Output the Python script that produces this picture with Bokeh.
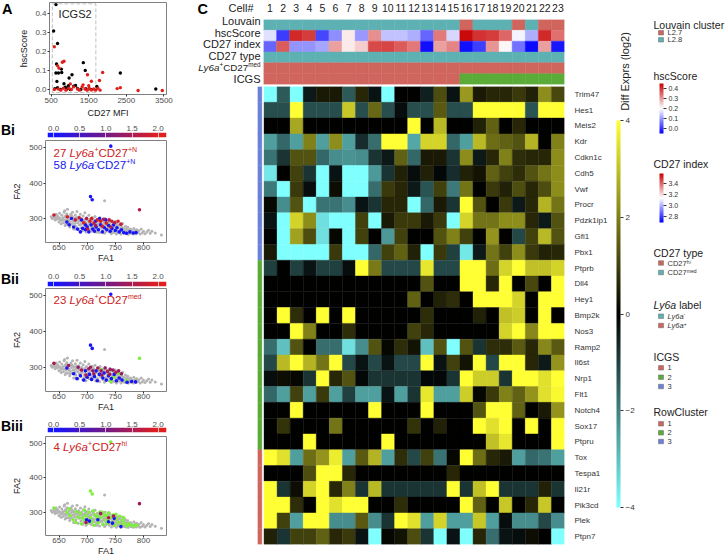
import numpy as np
from bokeh.plotting import figure
from bokeh.models import (Range1d, FactorRange, FixedTicker, LinearColorMapper, ColorBar,
                          Label, BoxAnnotation, ColumnDataSource, NumeralTickFormatter)
from bokeh.layouts import row, column
from bokeh.transform import transform, factor_cmap
from bokeh.embed import file_html
from bokeh.resources import INLINE
from bokeh.core.properties import value

FONT = "Liberation Sans"
INK = "#222222"
RED, TEAL, GREEN, BLUE = "#d0655e", "#5eb1b3", "#5aab37", "#6b80d8"

# ---------------- Panel A data ----------------
a_black_mfi = [629, 567, 670, 644, 628, 696, 773, 782, 654, 842, 978, 1056, 1356, 1408, 2341, 3284, 1716, 600, 670, 750,
               880, 930, 1010, 1100, 1200, 1290, 1420, 1560, 1150, 960]
a_black_hsc = [0.448, 0.309, 0.243, 0.135, 0.087, 0.087, 0.108, 0.090, 0.043, 0.031, 0.061, 0.078, 0.142, 0.101, 0.087,
               0.003, 0.016, 0.005, 0.010, 0.0, 0.012, 0.004, 0.0, 0.018, 0.006, 0.0, 0.004, 0.001, 0.022, 0.020]
a_red_mfi = [585, 799, 842, 713, 672, 1467, 1871, 1786, 1571, 2256, 2341, 2814, 3457, 585, 688, 757, 826, 894, 971, 1040,
             1100, 1203, 1254, 1323, 1400, 1460, 1511, 1571, 1631, 1683, 1743, 1803, 1010, 1350, 1500]
a_red_hsc = [0.226, 0.144, 0.149, 0.113, 0.125, 0.078, 0.090, 0.048, 0.044, 0.005, 0.010, -0.005, -0.005, 0.0, 0.003,
             -0.003, 0.007, -0.003, 0.007, 0.0, 0.014, 0.003, -0.003, 0.014, 0.003, -0.003, 0.007, -0.002, 0.003, -0.003,
             0.007, -0.003, 0.030, 0.025, 0.020]
icgs2_box = dict(left=533, right=1690, bottom=-0.016, top=0.452)
a_xticks = [500, 1500, 2500, 3500]
a_yticks = [0.0, 0.1, 0.2, 0.3, 0.4]

# ---------------- Panel B data (FA1, FA2) ----------------
fa_background = [
    (636, 305), (638, 300), (641, 308), (643, 296), (645, 312), (644, 302),
    (647, 298), (648, 306), (650, 290), (651, 315), (652, 300), (654, 285), (655, 309), (653, 294),
    (657, 302), (658, 288), (659, 318), (660, 295), (661, 280), (662, 308), (663, 292), (664, 300), (665, 326), (666, 284), (664, 313),
    (667, 296), (668, 305), (669, 276), (670, 290), (671, 312), (672, 299), (673, 284), (674, 318), (675, 292), (676, 270), (674, 305),
    (677, 301), (678, 286), (679, 310), (680, 278), (681, 295), (682, 320), (683, 288), (684, 268), (685, 304), (683, 299), (686, 282),
    (687, 292), (688, 312), (689, 274), (690, 300), (691, 286), (692, 265), (693, 307), (694, 295), (695, 280), (696, 316), (694, 270),
    (697, 289), (698, 262), (699, 302), (700, 276), (701, 294), (702, 283), (703, 309), (704, 268), (705, 298), (703, 288), (706, 278),
    (707, 291), (708, 264), (709, 303), (710, 281), (711, 296), (712, 272), (713, 289), (714, 306), (715, 262), (713, 279),
    (717, 285), (718, 297), (719, 268), (720, 278), (721, 292), (722, 260), (723, 302), (724, 273), (725, 286), (722, 281),
    (727, 295), (728, 266), (729, 279), (730, 288), (731, 258), (732, 300), (733, 271), (734, 283), (735, 292), (733, 263),
    (737, 276), (738, 286), (739, 262), (740, 296), (741, 270), (742, 281), (743, 257), (744, 290), (745, 275), (743, 266),
    (747, 284), (748, 260), (749, 270), (750, 292), (751, 278), (752, 256), (753, 287), (754, 266), (755, 274), (753, 281),
    (757, 262), (758, 282), (759, 270), (760, 256), (761, 277), (762, 266), (763, 286), (764, 260), (765, 272),
    (767, 264), (768, 278), (769, 257), (770, 270), (771, 262), (772, 275), (773, 255), (774, 268), (775, 261),
    (777, 270), (778, 258), (780, 265), (782, 256), (783, 272), (785, 262), (787, 257), (788, 268), (790, 260),
    (792, 265), (794, 256), (796, 270), (798, 259), (800, 264), (803, 257), (806, 262), (809, 267), (812, 258),
    (815, 264), (821, 259), (832, 253), (731, 350), (660, 322),
    (656, 296), (661, 304), (668, 292), (672, 308), (677, 293), (681, 303), (686, 296), (689, 283), (692, 292), (697, 298),
    (701, 280), (705, 287), (709, 276), (712, 296), (716, 270), (720, 286), (724, 295), (727, 274), (731, 282), (736, 270),
    (740, 284), (745, 262), (748, 276), (752, 270), (756, 280), (760, 266), (766, 258), (771, 268), (776, 264), (781, 262),
    (786, 266), (650, 302), (646, 308), (640, 302), (663, 284), (670, 282), (679, 270), (696, 272), (707, 270), (718, 262),
    (729, 293), (739, 290), (754, 260), (762, 274)]

# Bi: highlighted cells (FA1, FA2, CD27 MFI)
bi_cells = [
    (742, 505, 0.05), (706, 362, 0.05), (709, 353, 0.08), (664, 290, 0.1), (668, 282, 0.05), (676, 276, 0.1),
    (683, 270, 0.05), (688, 262, 0.0), (692, 272, 0.1), (697, 268, 0.05), (700, 276, 0.0), (703, 262, 0.1),
    (707, 282, 0.05), (710, 270, 0.0), (713, 264, 0.2), (716, 276, 0.05), (720, 268, 0.0), (724, 282, 0.1),
    (727, 262, 0.05), (731, 274, 0.0), (735, 268, 0.1), (738, 280, 0.05), (741, 264, 0.0), (744, 272, 0.1),
    (747, 282, 0.05), (750, 266, 0.0), (753, 274, 0.1), (757, 262, 0.0), (761, 268, 0.05), (765, 260, 0.1),
    (770, 258, 0.0), (776, 262, 0.05), (782, 259, 0.0), (787, 260, 0.1), (690, 296, 0.05), (715, 292, 0.0),
    (733, 296, 0.1), (697, 282, 0.05), (722, 300, 0.0), (672, 300, 0.1),
    (641, 310, 1.8), (793, 325, 1.6), (665, 305, 1.9), (679, 296, 1.7), (686, 302, 1.8), (694, 288, 2.0),
    (699, 300, 1.6), (705, 292, 1.9), (712, 287, 1.7), (718, 296, 1.8), (724, 292, 2.0), (729, 298, 1.5),
    (734, 287, 1.9), (739, 296, 1.7), (744, 292, 1.8), (749, 288, 1.6), (755, 292, 1.9), (760, 284, 1.7),
    (715, 280, 1.4), (727, 278, 1.8), (701, 270, 1.6), (742, 276, 1.5), (708, 300, 1.9)]
bii_cells = [
    (742, 505, 0.05), (706, 362, 0.05), (709, 353, 0.05), (664, 298, 0.1), (682, 268, 0.0), (688, 276, 0.05),
    (694, 264, 0.0), (700, 272, 0.1), (704, 280, 0.0), (708, 266, 0.05), (713, 274, 0.0), (718, 262, 0.1),
    (722, 280, 0.0), (728, 270, 0.05), (734, 264, 0.0), (738, 276, 0.1), (743, 268, 0.0), (748, 280, 0.05),
    (752, 262, 0.0), (757, 270, 0.1), (762, 264, 0.0), (771, 258, 0.05), (779, 260, 0.0), (786, 259, 0.1),
    (697, 290, 0.05), (716, 290, 0.0), (730, 284, 0.1), (676, 282, 0.0),
    (641, 311, 1.5), (667, 305, 1.4), (684, 300, 1.3), (690, 292, 1.5), (703, 296, 1.4), (710, 290, 1.3),
    (719, 298, 1.5), (725, 290, 1.4), (732, 298, 1.3), (736, 288, 1.5), (741, 294, 1.4), (746, 292, 1.3),
    (751, 286, 1.5), (756, 290, 1.4), (726, 278, 1.3), (712, 282, 1.4), (698, 278, 1.5), (740, 280, 1.4),
    (761, 282, 1.3), (706, 300, 1.4)]
bii_other = [(793, 325), (725, 293), (748, 272), (742, 260), (756, 283), (770, 262)]
biii_cells = [
    (699, 278, 0.05), (704, 274, 0.0), (719, 278, 0.05), (738, 272, 0.0), (745, 268, 0.1), (748, 282, 0.05),
    (760, 258, 0.0), (698, 270, 1.5), (724, 296, 1.4), (747, 289, 1.5), (793, 325, 1.4), (738, 284, 1.5)]
biii_other = [
    (742, 505), (706, 362), (709, 353), (641, 312), (664, 300), (670, 290), (675, 278), (680, 270), (684, 285),
    (688, 296), (690, 266), (694, 278), (698, 290), (700, 268), (703, 300), (706, 284), (709, 272), (712, 262),
    (714, 292), (717, 280), (720, 270), (722, 298), (725, 284), (728, 264), (731, 292), (733, 276), (736, 268),
    (738, 298), (741, 284), (744, 270), (746, 292), (749, 262), (752, 280), (755, 270), (758, 288), (760, 262),
    (763, 276), (766, 268), (770, 260), (774, 266), (778, 262), (783, 260), (788, 262), (668, 310), (681, 302),
    (695, 306), (711, 304), (727, 300), (692, 284), (718, 288), (734, 290), (751, 294), (765, 284)]
fa1_ticks = [650, 700, 750, 800]
fa2_ticks = [300, 400, 500]
mfi_ticks = [0.0, 0.5, 1.0, 1.5, 2.0]

# ---------------- Panel C data ----------------
cell_ids = list(range(1, 24))
louvain = ["L2.8"] * 15 + ["L2.7", "L2.8", "L2.8", "L2.8", "L2.7", "L2.8", "L2.7", "L2.7"]
hsc_score = [0.17, 0.01, 0.41, 0.39, 0.02, 0.09, 0.22, 0.10, 0.31, 0.14, 0.14, 0.12, 0.05, 0.33, 0.16,
             0.44, 0.40, 0.39, 0.35, 0.19, 0.12, 0.41, 0.34]
cd27_index = [2.87, 3.42, 2.95, 2.95, 2.98, 3.30, 3.17, 3.22, 3.45, 3.46, 3.42, 3.37, 2.72, 3.30, 3.35,
              2.72, 2.80, 3.32, 3.15, 2.89, 2.71, 3.30, 2.73]
cd27_type = ["CD27med"] * 23
ly6a_label = ["Ly6a+"] * 23
icgs = ["1"] * 15 + ["2"] * 8

cluster3_genes = ["Trim47", "Hes1", "Meis2", "Kdr", "Cdkn1c", "Cdh5", "Vwf", "Procr", "Pdzk1ip1", "Gfi1", "Pbx1"]
cluster2_genes = ["Ptprb", "Dll4", "Hey1", "Bmp2k", "Nos3", "Ramp2", "Il6st", "Nrp1", "Flt1", "Notch4", "Sox17", "Ptpru"]
cluster1_genes = ["Tox", "Tespa1", "Il21r", "Pik3cd", "Plek", "Ptpn7"]

cluster3_rows = [
    [-4.3, -1.4, -4.3, -0.4, 0.4, 0.4, -1.4, 0.6, -0.3, -4.3, 0.0, 0.0, -0.5, 1.2, -0.3, 2.4, 0.4, 0.6, 0.6, 0.9, 0.5, 2.2, 1.1],
    [-1.2, -1.2, 4.3, -1.2, -1.2, -1.2, 3.1, -1.2, 1.6, -1.2, -0.2, -1.2, -1.2, 1.4, -1.2, -1.2, 4.3, 4.3, 4.3, 4.3, -1.3, 4.3, 4.3],
    [0.0, 0.0, 2.6, 0.0, 0.0, 0.0, 0.0, 0.0, 0.0, 0.0, 0.0, 4.3, 0.0, 2.9, 0.0, 0.0, 0.5, 1.5, 0.0, 0.6, 0.0, 0.0, 0.0],
    [-2.5, -1.6, -2.5, 2.0, -2.5, 2.2, -2.5, -0.7, -1.7, 4.3, 4.3, -2.6, 3.3, 3.3, -1.6, -2.5, 2.9, 1.7, 1.5, 1.3, 2.8, 0.0, 2.0],
    [-1.8, -0.8, 1.3, 1.3, -1.6, -2.2, -2.3, -2.2, -0.8, -0.4, 1.5, -1.6, 0.4, 0.4, -0.8, 2.2, -0.4, 0.6, 2.0, 0.7, 0.6, 0.6, 2.2],
    [-3.6, 0.0, 1.0, -0.8, -4.3, -0.3, -4.3, -4.3, -2.4, -0.8, 0.5, -0.2, 0.5, -0.1, -0.7, 0.5, 0.3, 1.5, 1.0, 0.7, 1.3, 1.8, 2.2],
    [-1.9, -4.3, 0.9, -0.2, -4.3, 0.2, -4.3, -4.3, -1.7, 0.9, 0.6, -0.4, -1.3, 1.0, -1.9, 1.8, 0.0, 0.9, 0.5, 1.2, 0.6, 1.2, 2.2],
    [0.1, -2.2, 1.3, -4.3, -1.8, -1.8, -2.2, -0.3, -0.8, 0.6, 0.6, -4.3, -1.6, 0.4, -0.8, 4.3, 1.3, 0.0, 0.9, -0.4, 0.6, 2.8, 1.8],
    [-0.3, -4.3, 3.3, 2.2, -3.5, -4.3, -4.3, 1.0, -4.3, 0.4, 0.9, 0.9, 0.4, 0.9, -4.3, 3.3, 1.8, 1.8, 2.2, 2.2, 0.6, -0.4, 1.3],
    [0.0, -4.3, 2.5, 1.2, -3.5, 0.1, -4.3, 1.0, 0.0, -2.4, 1.0, 0.0, 0.0, 1.3, 2.0, 1.0, 0.0, 2.3, 0.0, -1.1, 1.0, 2.9, 1.3],
    [0.4, -4.3, -4.3, -4.3, -4.3, 0.9, -4.3, -4.3, -1.6, 1.0, 1.5, 0.5, -4.3, 0.9, -1.0, -3.6, -0.4, 1.8, 1.0, 2.2, 0.9, 0.5, 0.6]]
cluster2_rows = [
    [-1.0, 0.0, -1.0, -0.3, -1.0, -1.0, -0.2, 4.3, 1.9, -1.1, -1.1, -1.1, 3.6, -1.1, -1.1, 4.3, 4.3, 1.7, 3.3, 4.3, 3.0, 3.0, 3.3],
    [0.0, 0.0, 0.0, 0.0, 0.0, 0.0, 0.0, 0.0, 0.0, 0.0, 0.0, 0.0, 1.3, 0.0, 0.0, 4.3, 4.3, 0.6, 4.3, 0.0, 1.1, 0.0, 4.3],
    [0.0, 0.0, 0.0, 0.0, 0.0, 0.0, 0.0, 0.0, 0.0, 0.0, 0.0, 1.5, 0.0, 0.5, 0.7, 0.0, 4.3, 4.3, 4.3, 3.3, 0.0, 4.3, 4.3],
    [0.0, 4.3, 0.7, 0.0, 4.3, 0.0, 4.3, 0.0, 0.0, 0.0, 0.0, 0.0, 0.7, 0.0, 0.0, 0.0, 0.5, 0.0, 3.0, 3.2, 0.0, 4.3, 0.0],
    [0.0, 0.0, 4.3, 2.0, 0.0, 0.0, 0.7, 0.0, 0.0, 0.0, 0.0, 1.0, 0.6, 0.0, 0.0, 0.0, 0.0, 0.0, 3.3, 4.3, 2.1, 4.3, 4.3],
    [-1.7, -3.0, 1.3, 0.0, -1.7, -1.7, -3.5, -2.2, 1.3, 0.1, 0.7, 0.3, -3.0, 1.3, -4.3, 1.3, -0.8, 0.7, 0.7, 1.4, 0.6, 2.1, 1.4],
    [-1.1, 2.9, 4.3, 2.8, 1.8, 4.3, -1.1, -0.3, -1.1, -0.3, -1.1, -1.1, 4.3, -0.3, 1.0, 0.3, 4.3, -1.1, 4.3, 4.3, 0.6, -0.4, 2.3],
    [-0.2, 0.2, 0.1, -0.8, 4.3, 0.6, 1.3, -0.1, -0.8, -0.8, -0.8, -0.8, -0.1, -0.1, -0.8, 4.3, 3.2, 3.2, -0.8, 4.3, 4.3, 3.5, 4.3],
    [-1.6, -2.5, 1.0, -2.5, 0.9, -2.5, -1.0, -2.5, -2.5, -0.3, -2.5, -0.8, 3.6, -2.5, -2.5, 3.2, 0.1, 0.9, 2.0, 1.5, 2.3, 3.5, 3.9],
    [0.0, 0.0, 4.3, 0.0, 0.0, 0.0, 0.0, 0.0, 4.3, 0.0, 0.0, 0.0, 4.3, 0.0, 0.0, 0.0, 1.3, 4.3, 4.3, 1.5, 0.0, 0.4, 2.3],
    [0.0, 0.8, 0.0, 0.0, 0.0, 1.8, 0.0, 0.0, 0.0, 0.0, 0.0, 0.8, 0.0, 0.5, 0.0, 0.0, 4.3, 3.5, 4.3, 0.0, 4.3, 0.0, 4.3],
    [0.0, 0.0, 0.0, 4.3, 0.0, 0.0, 0.0, 0.0, 0.0, 4.3, 0.0, 0.0, 0.0, 0.0, 0.0, 0.0, 0.0, 3.0, 3.6, 0.0, 0.0, 0.0, 4.3]]
cluster1_rows = [
    [4.3, 3.5, -2.5, 1.7, 2.3, 3.7, -2.5, 1.4, 2.8, -2.5, 0.7, -1.1, 1.0, -1.8, 0.1, 4.3, 1.7, 0.6, 0.4, -2.5, -1.6, -1.8, -2.5],
    [0.0, 0.0, 0.0, 1.2, 4.3, 4.3, 0.6, 0.0, 0.0, 0.0, 0.0, 0.0, 0.0, 0.0, 0.6, 0.0, 0.0, 0.0, 0.0, 0.0, 0.0, 0.0, 0.0],
    [4.3, -0.8, 0.2, 3.3, 4.3, 0.6, 2.0, -0.8, 2.9, -0.8, -0.8, -0.8, -0.8, -0.8, 4.3, -0.8, 3.0, 4.3, -0.8, -0.8, -0.8, 0.5, -0.8],
    [4.3, 4.3, 0.7, 0.0, 4.3, 3.5, 4.3, 4.3, 0.0, 0.0, 0.7, 0.0, 0.0, 0.0, 0.0, 4.3, 1.5, 0.0, 3.1, 0.0, 0.6, 3.1, 0.0],
    [4.3, 1.0, -2.5, 4.3, 4.3, -2.2, -2.2, 1.4, -2.2, -0.8, 4.3, 3.5, -2.5, 3.3, -2.5, -2.5, 3.1, -2.5, -0.2, -2.2, -2.2, -1.1, -2.2],
    [0.5, -0.8, 1.0, 1.0, 1.5, 0.6, 0.9, -0.3, -4.3, 0.1, 0.3, 1.2, -0.8, -4.3, -0.3, -4.3, 0.6, -1.7, -0.3, -0.2, 0.2, 0.0, -4.3]]
expr_ticks = [-4, -2, 0, 2, 4]

# ---------------- helpers ----------------
def hexc(c):
    return "#%02x%02x%02x" % tuple(int(round(max(0, min(255, v)))) for v in c)


def ramp(stops, n=256):
    out = []
    for i in range(n):
        t = i / (n - 1)
        for (p0, c0), (p1, c1) in zip(stops[:-1], stops[1:]):
            if p0 <= t <= p1:
                f = (t - p0) / (p1 - p0)
                out.append(hexc([a + (b - a) * f for a, b in zip(c0, c1)]))
                break
    return out


expr_mapper = LinearColorMapper(palette=ramp([(0, (128, 255, 255)), (0.5, (0, 0, 0)), (1, (255, 255, 51))]), low=-4, high=4)
mfi_mapper = LinearColorMapper(palette=ramp([(0, (20, 20, 255)), (0.5, (115, 25, 135)), (1, (225, 30, 30))]), low=0, high=2)
hsc_mapper = LinearColorMapper(palette=ramp([(0, (0, 0, 255)), (0.5, (255, 255, 255)), (1, (200, 0, 0))]), low=-0.05, high=0.45)
cd27_mapper = LinearColorMapper(palette=ramp([(0, (0, 0, 255)), (0.5, (255, 255, 255)), (1, (200, 0, 0))]), low=2.69, high=3.58)

W = {' ': .278, '+': .584, '-': .333, 'L': .556, 'y': .5, 'a': .556, 'C': .722, 'D': .722, 'N': .722,
     'm': .833, 'e': .556, 'd': .556, 'h': .556, 'i': .222}


def tw(s, size):
    return sum(W.get(ch, .556) for ch in s) * size


def runs(p, x, y, parts, color):
    """Rich text inside a plot frame (screen units from the frame's bottom-left)."""
    cx = x
    for t, s, style, dy in parts:
        p.add_layout(Label(x=cx, y=y + dy, x_units="screen", y_units="screen", text=t, text_font=FONT,
                           text_font_size=f"{s}px", text_font_style=style, text_color=color,
                           text_baseline="middle", text_align="left"))
        cx += tw(t, s)


def glyph_runs(p, x, y, parts, color, align="left"):
    """Rich text in a pixel-coordinate text panel (y grows downward)."""
    total = sum(tw(t, s) for t, s, _, _ in parts)
    cx = x - total if align == "right" else x
    for t, s, style, dy in parts:
        p.text(x=[cx], y=[y - dy], text=[t], text_font=value(FONT), text_font_size=value(f"{s}px"),
               text_font_style=style, text_color=color, text_baseline="middle")
        cx += tw(t, s)


def fig(w, h, xr, yr, bl, br, bt, bb, **kw):
    p = figure(width=w, height=h, x_range=xr, y_range=yr, output_backend="svg", toolbar_location=None,
               min_border_left=bl, min_border_right=br, min_border_top=bt, min_border_bottom=bb, **kw)
    p.frame_align = False
    p.grid.visible = False
    p.background_fill_color = "white"
    p.border_fill_color = "white"
    return p


def text_panel(w, h, x0, y0):
    """Blank panel whose coordinates equal page pixels, for panel letters and row labels."""
    p = fig(w, h, Range1d(x0, x0 + w), Range1d(y0 + h, y0), 0, 0, 0, 0,
            x_axis_location=None, y_axis_location=None)
    p.outline_line_color = None
    return p


def letter(p, x, y, t, size="14.5px"):
    p.text(x=[x], y=[y], text=[t], text_font=value(FONT), text_font_size=value(size),
           text_font_style="bold", text_color="black", text_baseline="middle")


def style_axes(p, lab="8px", axl="9px"):
    for ax in p.axis:
        ax.axis_line_color = None
        ax.major_tick_line_color = "#333333"
        ax.major_tick_out = 2
        ax.major_tick_in = 0
        ax.minor_tick_line_color = None
        ax.major_label_text_font = FONT
        ax.major_label_text_font_size = lab
        ax.major_label_text_color = "#4d4d4d"
        ax.major_label_standoff = 1
        ax.axis_label_text_font = FONT
        ax.axis_label_text_font_size = axl
        ax.axis_label_text_font_style = "normal"
        ax.axis_label_text_color = INK
        ax.axis_label_standoff = 1


# ---------------- Panel A ----------------
pA = fig(180, 120, Range1d(457, 3569), Range1d(-0.026, 0.459), 29, 30, 2, 25)
pA.outline_line_color = "#808080"
style_axes(pA)
pA.xaxis.ticker = FixedTicker(ticks=a_xticks)
pA.yaxis.ticker = FixedTicker(ticks=a_yticks)
pA.yaxis.formatter = NumeralTickFormatter(format="0.0")
pA.xaxis.axis_label = "CD27 MFI"
pA.yaxis.axis_label = "hscScore"
pA.xaxis.axis_label_standoff = 2
pA.yaxis.axis_label_standoff = 3
pA.add_layout(BoxAnnotation(**icgs2_box, fill_alpha=0, line_color="#333333", line_width=1, line_dash="4 2"))
pA.scatter(a_black_mfi, a_black_hsc, size=3.4, fill_color="black", line_color=None)
pA.scatter(a_red_mfi, a_red_hsc, size=3.4, fill_color="#e01f1a", line_color=None)
pA.add_layout(Label(x=1138, y=0.396, text="ICGS2", text_font=FONT, text_font_size="11px", text_color=INK,
                    text_align="center", text_baseline="middle"))
tA = text_panel(16, 120, 0, 0)
letter(tA, 1.5, 8, "A")


# ---------------- Panels B ----------------
def mfi_bar(h, bt, bb, standoff):
    p = fig(166, h, Range1d(-0.115, 2.159), Range1d(0, 1), 17, 30, bt, bb,
            x_axis_location="above", y_axis_location=None)
    p.outline_line_color = None
    p.image(image=[np.array([np.linspace(-0.115, 2.159, 240)])], x=-0.115, y=0, dw=2.274, dh=1,
            color_mapper=mfi_mapper)
    style_axes(p)
    ax = p.xaxis[0]
    ax.ticker = FixedTicker(ticks=mfi_ticks)
    ax.formatter = NumeralTickFormatter(format="0.0")
    ax.major_tick_out = 0
    ax.major_tick_in = 5
    ax.major_tick_line_color = "white"
    ax.major_tick_line_alpha = 0.7
    ax.major_label_standoff = standoff
    return p


def b_panel(h, bt, bb, cells, others=None):
    p = fig(196, h, Range1d(626, 841), Range1d(232, 521), 45, 30, bt, bb)
    p.outline_line_color = "#808080"
    style_axes(p)
    p.xaxis.ticker = FixedTicker(ticks=fa1_ticks)
    p.yaxis.ticker = FixedTicker(ticks=fa2_ticks)
    p.xaxis.axis_label = "FA1"
    p.yaxis.axis_label = "FA2"
    p.xaxis.major_label_standoff = 0
    p.xaxis.axis_label_standoff = 0
    p.yaxis.axis_label_standoff = 4
    bx, by = zip(*fa_background)
    p.scatter(list(bx), list(by), size=3, fill_color="#b4b4b4", line_color=None)
    if others:
        ox, oy = zip(*others)
        p.scatter(list(ox), list(oy), size=3.6, fill_color="#7ef03a", line_color=None)
    cx, cy, cv = zip(*cells)
    src = ColumnDataSource(dict(x=list(cx), y=list(cy), v=list(cv)))
    p.scatter("x", "y", source=src, size=3.6, fill_color=transform("v", mfi_mapper), line_color=None)
    return p


RT, BT = "#cc2222", "#2020ee"
bi_bar = mfi_bar(18, 12, 1, 2)
t_bi = text_panel(30, 18, 0, 120)
letter(t_bi, 0.5, 129, "Bi", "14px")
bi = b_panel(127, 2, 23, bi_cells)
runs(bi, 8, 89.5, [("27 ", 11.5, "normal", 0), ("Ly6a", 11.5, "italic", 0), ("+", 7, "normal", 3.5),
                   ("CD27", 11.5, "normal", 0), ("+N", 7, "normal", 3.5)], RT)
runs(bi, 8, 77.5, [("58 ", 11.5, "normal", 0), ("Ly6a", 11.5, "italic", 0), ("-", 7, "normal", 3.5),
                   ("CD27", 11.5, "normal", 0), ("+N", 7, "normal", 3.5)], BT)

bii_bar = mfi_bar(22, 16, 1, 3)
t_bii = text_panel(30, 22, 0, 265)
letter(t_bii, 0.5, 278.5, "Bii", "14px")
bii = b_panel(129, 1, 25, bii_cells, bii_other)
runs(bii, 8, 92, [("23 ", 11.5, "normal", 0), ("Ly6a", 11.5, "italic", 0), ("+", 7, "normal", 3.5),
                  ("CD27", 11.5, "normal", 0), ("med", 7, "normal", 3.5)], RT)

biii_bar = mfi_bar(18, 11, 2, 1)
t_biii = text_panel(30, 18, 0, 416)
letter(t_biii, 0.5, 425, "Biii", "14px")
biii = b_panel(124, 2, 21, biii_cells, biii_other)
runs(biii, 8, 89, [("4 ", 11.5, "normal", 0), ("Ly6a", 11.5, "italic", 0), ("+", 7, "normal", 3.5),
                   ("CD27", 11.5, "normal", 0), ("hi", 7, "normal", 3.5)], RT)

left = column(row(tA, pA), row(t_bi, bi_bar), bi, row(t_bii, bii_bar), bii, row(t_biii, biii_bar), biii)

# ---------------- Panel C: annotations ----------------
ann = ColumnDataSource(dict(cell=cell_ids, louvain=louvain, hsc=hsc_score, cd27=cd27_index,
                            ctype=cd27_type, ly6a=ly6a_label, icgs=icgs))
pAn = fig(349, 85, Range1d(0.5, 23.5), Range1d(6, 0), 0, 48, 15, 1,
          x_axis_location="above", y_axis_location=None)
pAn.outline_line_color = None
ann_fills = [
    factor_cmap("louvain", [RED, TEAL], ["L2.7", "L2.8"]),
    transform("hsc", hsc_mapper),
    transform("cd27", cd27_mapper),
    factor_cmap("ctype", [RED, TEAL], ["CD27hi", "CD27med"]),
    factor_cmap("ly6a", [TEAL, RED], ["Ly6a-", "Ly6a+"]),
    factor_cmap("icgs", [RED, GREEN, BLUE], ["1", "2", "3"]),
]
for i, f in enumerate(ann_fills):
    pAn.rect(x="cell", y=i + 0.5, width=1, height=1, source=ann, fill_color=f, line_color=f, line_width=0.4)
ax = pAn.xaxis[0]
ax.ticker = FixedTicker(ticks=cell_ids)
ax.axis_line_color = None
ax.major_tick_line_color = None
ax.minor_tick_line_color = None
ax.major_label_standoff = 2
ax.major_label_text_font = FONT
ax.major_label_text_font_size = "10.5px"
ax.major_label_text_color = INK

tC = text_panel(67, 85, 196, 0)
letter(tC, 197, 8, "C")
tC.text(x=[253], y=[7.5], text=["Cell#"], text_font=value(FONT), text_font_size=value("11px"),
        text_color=INK, text_align="right", text_baseline="middle")
ann_names = ["Louvain", "hscScore", "CD27 index", "CD27 type", None, "ICGS"]
for i, nm in enumerate(ann_names):
    yc = 15 + 11.5 * (i + 0.5)
    if nm is None:
        glyph_runs(tC, 260, yc, [("Ly6a", 9.8, "italic", 0), ("+", 6.3, "normal", 3), ("CD27", 9.8, "normal", 0),
                                 ("med", 6.3, "normal", 3)], INK, align="right")
    else:
        tC.text(x=[260], y=[yc], text=[nm], text_font=value(FONT), text_font_size=value("11px"),
                text_color=INK, text_align="right", text_baseline="middle")

# ---------------- Panel C: heatmap ----------------
genes = cluster3_genes + cluster2_genes + cluster1_genes
rows = cluster3_rows + cluster2_rows + cluster1_rows
row_cluster = ["3"] * len(cluster3_genes) + ["2"] * len(cluster2_genes) + ["1"] * len(cluster1_genes)
hx, hy, hv = [], [], []
for g, r in zip(genes, rows):
    for c, v in zip(cell_ids, r):
        hx.append(c)
        hy.append(g)
        hv.append(v)
pH = fig(416, 473, Range1d(0, 23.5), FactorRange(factors=genes[::-1], range_padding=0, factor_padding=0),
         61, 48, 1, 14, x_axis_location=None, y_axis_location="right")
pH.outline_line_color = None
pH.rect(x="x", y="y", width=1, height=1, source=ColumnDataSource(dict(x=hx, y=hy, v=hv)),
        fill_color=transform("v", expr_mapper), line_color=transform("v", expr_mapper), line_width=0.4)
pH.rect(x=0.17, y="g", width=0.33, height=1, source=ColumnDataSource(dict(g=genes, k=row_cluster)),
        fill_color=factor_cmap("k", [RED, GREEN, BLUE], ["1", "2", "3"]),
        line_color=factor_cmap("k", [RED, GREEN, BLUE], ["1", "2", "3"]), line_width=0.3)
ay = pH.yaxis[0]
ay.axis_line_color = None
ay.major_tick_line_color = None
ay.minor_tick_line_color = None
ay.major_label_standoff = 4
ay.major_label_text_font = FONT
ay.major_label_text_font_size = "8px"
ay.major_label_text_color = "#333333"

mid = column(row(tC, pAn), pH)

# ---------------- Right: colour bar and legends ----------------
pL = text_panel(114, 558, 612, 0)


def cbar(mapper, ticks, loc, h, fmt=None, fs="7px"):
    cb = ColorBar(color_mapper=mapper, orientation="vertical", width=4, height=h, location=loc, padding=0,
                  margin=0, ticker=FixedTicker(ticks=ticks), major_tick_in=0, major_tick_out=3,
                  major_tick_line_color="#333333", major_label_text_font=FONT, major_label_text_font_size=fs,
                  major_label_text_color="#333333", label_standoff=2, bar_line_color=None,
                  border_line_color=None, background_fill_color=None)
    if fmt:
        cb.formatter = NumeralTickFormatter(format=fmt)
    pL.add_layout(cb)


cbar(expr_mapper, expr_ticks, (4, 51), 387, None, "8px")
cbar(hsc_mapper, [0.0, 0.1, 0.2, 0.3, 0.4], (47, 425), 50, "0.0")
cbar(cd27_mapper, [2.8, 3.0, 3.2, 3.4], (47, 336), 49, "0.0")
pL.add_layout(Label(x=624, y=71, text="Diff Exprs (log2)", angle=np.pi / 2, text_font=FONT, text_font_size="11px",
                    text_color=INK, text_align="center", text_baseline="middle"))

titles = ["Louvain cluster", "hscScore", "CD27 index", "CD27 type", "ICGS", "RowCluster"]
title_y = [24, 75, 163.5, 252, 356, 411]
pL.text(x=[653] * len(titles), y=title_y, text=titles, text_font=value(FONT), text_font_size=value("10.5px"),
        text_color=INK, text_baseline="middle", text_align="left")
pL.text(x=[653], y=[304], text=["Ly6a"], text_font=value(FONT), text_font_size=value("10.5px"),
        text_font_style="italic", text_color=INK, text_baseline="middle")
pL.text(x=[653 + tw("Ly6a ", 10.5)], y=[304], text=["label"], text_font=value(FONT),
        text_font_size=value("10.5px"), text_color=INK, text_baseline="middle")

item_text = ["L2.7", "L2.8", "CD27\u02b0\u2071", "CD27\u1d50\u1d49\u1d48", "1", "2", "3", "1", "2", "3"]
item_color = [RED, TEAL, RED, TEAL, RED, GREEN, BLUE, RED, GREEN, BLUE]
item_y = [32.3, 39.3, 262.5, 272, 367.3, 376.7, 386, 423.3, 432.3, 441]
ly6a_items_y = [315.7, 325]
pL.rect(x=[660.5] * (len(item_y) + 2), y=item_y + ly6a_items_y, width=5, height=4.5,
        fill_color=item_color + [TEAL, RED], line_color="#666666", line_width=0.5)
pL.text(x=[667] * len(item_y), y=item_y, text=item_text, text_font=value(FONT), text_font_size=value("7.5px"),
        text_color="#333333", text_baseline="middle")
pL.text(x=[667, 667], y=ly6a_items_y, text=["Ly6a", "Ly6a"], text_font=value(FONT), text_font_size=value("7.5px"),
        text_font_style="italic", text_color="#333333", text_baseline="middle")
pL.text(x=[667 + tw("Ly6a", 7.5)] * 2, y=[y - 2 for y in ly6a_items_y], text=["-", "+"], text_font=value(FONT),
        text_font_size=value("5px"), text_color="#333333", text_baseline="middle")

root = row(left, mid, pL)

open("out.html", "w").write(file_html(root, INLINE))
